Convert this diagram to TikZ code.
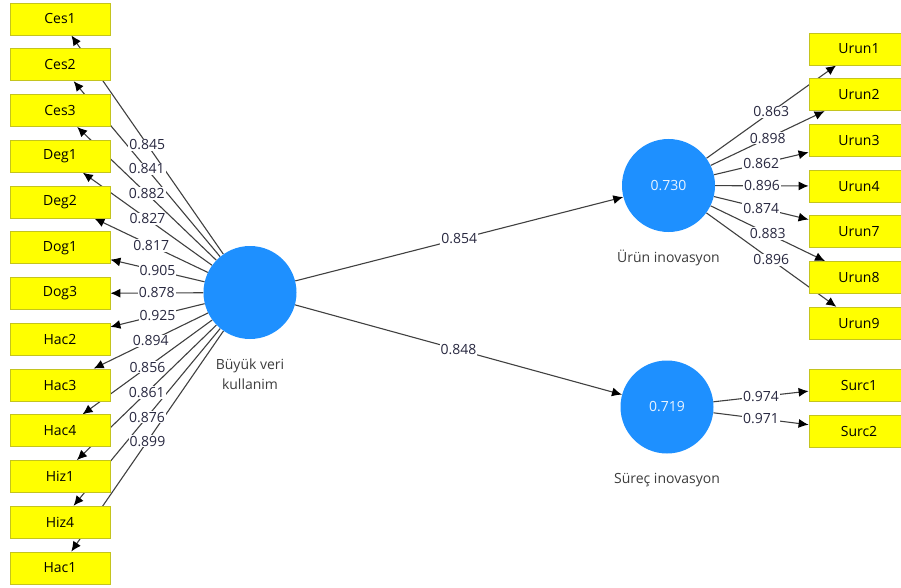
\documentclass[tikz,border=0pt]{standalone}
\usepackage{fontspec}
\setmainfont{Open Sans}
\usetikzlibrary{arrows.meta}
\pgfdeclarelayer{lines}
\pgfsetlayers{lines,main}
\definecolor{boxyellow}{RGB}{255,255,0}
\definecolor{boxedge}{RGB}{196,196,30}
\definecolor{latentblue}{RGB}{30,144,255}
\definecolor{linegray}{RGB}{64,64,64}
\definecolor{numtext}{RGB}{40,40,64}
\definecolor{captext}{RGB}{60,60,60}
\tikzset{
  indicator/.style={draw=boxedge, fill=boxyellow, line width=0.8pt,
    minimum width=100pt, minimum height=32pt, inner sep=0pt},
  latent/.style={circle, fill=latentblue, minimum size=93pt, inner sep=0pt,
    text=white!90!latentblue},
  link/.style={draw=linegray, line width=1.1pt,
    -{Latex[length=10pt,width=9pt,black]}},
  weight/.style={fill=white, inner sep=1pt, text=numtext},
  caption/.style={align=center, anchor=base, text=captext}
}
\newcommand\indbox[3]{\node[indicator] (#1) at (#2,#3) {#1}}
\newcommand\loading[3]{%
  \begin{pgfonlayer}{lines}\draw[link] (#1) -- (#2);\end{pgfonlayer}
  \path (#1) -- node[weight] {#3} (#2)}

\begin{document}
\begin{tikzpicture}[x=1pt, y=-1pt, font=\fontsize{14}{20}\selectfont]
        \useasboundingbox (0,0) rectangle (901,588);

        % The constructs
        \node[latent] (buyuk) at (250,292.5) {};
        \node[latent] (urun) at (668.5,185.5) {0.730};
        \node[latent] (surec) at (667,407) {0.719};
        \node[caption] (buyuktxt) at (250,389) {B\"uy\"uk veri\\kullanim};
        \node[caption] (uruntxt) at (668.5,262) {\"Ur\"un inovasyon};
        \node[caption] (surectxt) at (667,483) {S\"ure\c{c} inovasyon};

        % Indicators, left
        \indbox{Ces1}{60}{19};
        \indbox{Ces2}{60}{64.75};
        \indbox{Ces3}{60}{110.5};
        \indbox{Deg1}{60}{156.25};
        \indbox{Deg2}{60}{202};
        \indbox{Dog1}{60}{247.75};
        \indbox{Dog3}{60}{293.5};
        \indbox{Hac2}{60}{339.25};
        \indbox{Hac3}{60}{385};
        \indbox{Hac4}{60}{430.75};
        \indbox{Hiz1}{60}{476.5};
        \indbox{Hiz4}{60}{522.25};
        \indbox{Hac1}{60}{568};

        % Indicators, right
        \indbox{Urun1}{859}{49};
        \indbox{Urun2}{859}{94.7};
        \indbox{Urun3}{859}{140.4};
        \indbox{Urun4}{859}{186.1};
        \indbox{Urun7}{859}{231.8};
        \indbox{Urun8}{859}{277.5};
        \indbox{Urun9}{859}{323.2};
        \indbox{Surc1}{859}{385.5};
        \indbox{Surc2}{859}{431};

        % Outer loadings
        \loading{buyuk}{Ces1}{0.845};
        \loading{buyuk}{Ces2}{0.841};
        \loading{buyuk}{Ces3}{0.882};
        \loading{buyuk}{Deg1}{0.827};
        \loading{buyuk}{Deg2}{0.817};
        \loading{buyuk}{Dog1}{0.905};
        \loading{buyuk}{Dog3}{0.878};
        \loading{buyuk}{Hac2}{0.925};
        \loading{buyuk}{Hac3}{0.894};
        \loading{buyuk}{Hac4}{0.856};
        \loading{buyuk}{Hiz1}{0.861};
        \loading{buyuk}{Hiz4}{0.876};
        \loading{buyuk}{Hac1}{0.899};
        \loading{urun}{Urun1}{0.863};
        \loading{urun}{Urun2}{0.898};
        \loading{urun}{Urun3}{0.862};
        \loading{urun}{Urun4}{0.896};
        \loading{urun}{Urun7}{0.874};
        \loading{urun}{Urun8}{0.883};
        \loading{urun}{Urun9}{0.896};
        \loading{surec}{Surc1}{0.974};
        \loading{surec}{Surc2}{0.971};

        % Path coefficients
        \loading{buyuk}{urun}{0.854};
        \loading{buyuk}{surec}{0.848};
\end{tikzpicture}
\end{document}
